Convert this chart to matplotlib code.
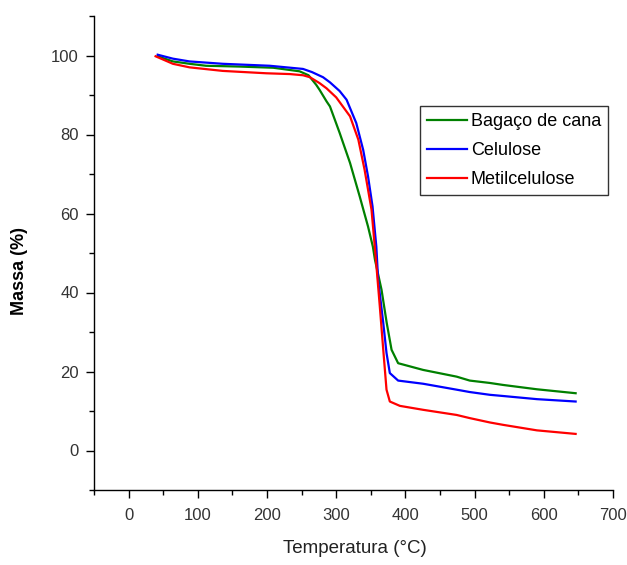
import matplotlib
matplotlib.use("Agg")
import matplotlib.pyplot as plt
from matplotlib.ticker import MultipleLocator

# curvas TGA
temp_bagaco = [42, 64, 88, 112, 160, 209, 247, 260, 271, 276, 286, 291, 300, 305, 320, 334, 346,
               353, 356, 365.5, 373, 380, 389.5, 425.6, 474, 493, 522, 541, 590, 646]
massa_bagaco = [99.8, 98.5, 97.9, 97.4, 97.2, 96.9, 96.0, 95.0, 92.6, 91.3, 88.4, 87.1, 82.8, 80.4, 72.8, 64.3, 56.7,
                51.6, 48.3, 40.7, 32.3, 25.5, 22.1, 20.4, 18.7, 17.7, 17.1, 16.6, 15.5, 14.5]

temp_celulose = [42, 64, 88, 136, 204, 252, 265, 281, 291, 305, 315, 329, 339, 346, 352.5,
                 358, 360.6, 368, 372.7, 377.5, 389.5, 425.6, 474, 493, 522, 541, 590, 646]
massa_celulose = [100.2, 99.2, 98.5, 97.9, 97.4, 96.6, 95.8, 94.5, 93.2, 91.0, 88.8, 82.9, 76.1, 69.4, 61.8,
                  51.6, 43.2, 32.3, 24.7, 19.6, 17.7, 16.9, 15.4, 14.8, 14.1, 13.8, 13.0, 12.4]

temp_metil = [39, 64, 88, 136, 199, 233, 252, 262, 276, 286, 300, 320, 332, 341, 351, 357,
              363, 368, 372.7, 377.5, 392, 425.6, 474, 493, 522, 541, 590, 646]
massa_metil = [99.8, 97.9, 97.0, 96.1, 95.5, 95.3, 95.0, 94.5, 93.0, 91.7, 89.4, 84.6, 78.7, 71.1, 61.0, 49.1,
               36.5, 25.5, 15.4, 12.4, 11.3, 10.3, 9.0, 8.2, 7.1, 6.5, 5.1, 4.2]

nomes = ['Bagaço de cana', 'Celulose', 'Metilcelulose']

fonte = ['Liberation Sans', 'DejaVu Sans']

fig = plt.figure(figsize=(6.27, 5.65), dpi=100)
ax = fig.add_axes([94 / 627, 1 - 490 / 565, 519 / 627, 474 / 565])

ax.plot(temp_bagaco, massa_bagaco, color='#008000', lw=1.6, label=nomes[0])
ax.plot(temp_celulose, massa_celulose, color='#0000ff', lw=1.6, label=nomes[1])
ax.plot(temp_metil, massa_metil, color='#ff0000', lw=1.6, label=nomes[2])

ax.set_xlim(-50, 700)
ax.set_ylim(-10, 110)
ax.spines['top'].set_visible(False)
ax.spines['right'].set_visible(False)
for s in ('left', 'bottom'):
    ax.spines[s].set_linewidth(1.0)

ax.xaxis.set_major_locator(MultipleLocator(100))
ax.xaxis.set_minor_locator(MultipleLocator(50))
ax.yaxis.set_major_locator(MultipleLocator(20))
ax.yaxis.set_minor_locator(MultipleLocator(10))
ax.tick_params(which='major', direction='out', length=6, width=1.0, colors='black',
               labelcolor='#333333', labelsize=12)
ax.tick_params(axis='x', which='major', pad=7)
ax.tick_params(axis='y', which='major', pad=5)
ax.tick_params(which='minor', direction='out', length=3.5, width=1.0)
for lab in ax.get_xticklabels() + ax.get_yticklabels():
    lab.set_family(fonte)

ax.set_xlabel('Temperatura (°C)', family=fonte, fontsize=13.5, color='#222222')
ax.xaxis.set_label_coords(0.503, -0.105)
fig.text(20 / 627, 1 - 271 / 565, 'Massa (%)', rotation=90, ha='center', va='center',
         family=fonte, fontweight='bold', fontsize=13)

leg = ax.legend(loc='upper left', bbox_to_anchor=(0.628, 0.810), borderaxespad=0,
                prop={'family': fonte, 'size': 13}, frameon=True, fancybox=False,
                handlelength=2.2, handletextpad=0.22, borderpad=0.4, labelspacing=0.66)
leg.get_frame().set_edgecolor('black')
leg.get_frame().set_linewidth(1.0)

fig.savefig('out.png', dpi=100)
